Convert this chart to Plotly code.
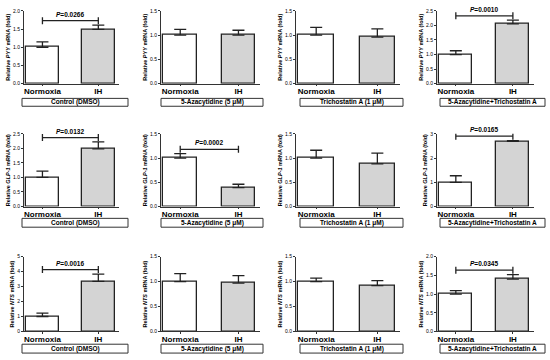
import plotly.graph_objects as go

# data
groups = ["Normoxia", "IH"]
genes = ["PYY", "GLP-1", "NTS"]
treatments = ["Control (DMSO)", "5-Azacytidine (5 μM)",
              "Trichostatin A (1 μM)", "5-Azacytidine+Trichostatin A"]

pyy_mean = [[1.0, 1.49], [1.0, 1.0], [1.0, 0.96], [1.0, 2.05]]
pyy_err = [[0.15, 0.12], [0.12, 0.10], [0.16, 0.17], [0.13, 0.13]]
glp1_mean = [[1.0, 1.98], [1.0, 0.39], [1.0, 0.88], [1.0, 2.69]]
glp1_err = [[0.22, 0.24], [0.09, 0.07], [0.16, 0.22], [0.27, 0.03]]
nts_mean = [[1.0, 3.35], [1.0, 0.97], [1.0, 0.92], [1.0, 1.40]]
nts_err = [[0.22, 0.49], [0.16, 0.15], [0.07, 0.10], [0.09, 0.12]]

pyy_p = ["0.0266", None, None, "0.0010"]
glp1_p = ["0.0132", "0.0002", None, "0.0165"]
nts_p = ["0.0016", None, None, "0.0345"]

pyy_ymax = [2.0, 1.5, 1.5, 2.5]
glp1_ymax = [2.5, 1.5, 1.5, 3.0]
nts_ymax = [5.0, 1.5, 1.5, 2.0]
pyy_dtick = [0.5, 0.5, 0.5, 0.5]
glp1_dtick = [0.5, 0.5, 0.5, 1.0]
nts_dtick = [1.0, 0.5, 0.5, 0.5]

means = [pyy_mean, glp1_mean, nts_mean]
errs = [pyy_err, glp1_err, nts_err]
pvals = [pyy_p, glp1_p, nts_p]
ymaxs = [pyy_ymax, glp1_ymax, nts_ymax]
dticks = [pyy_dtick, glp1_dtick, nts_dtick]

W, H = 550, 360
FONT = "Liberation Sans, Arial, sans-serif"

# pixel layout of panels
col_x = [(24, 119), (161, 260), (296, 400), (437, 534)]
row_y = [(8, 82), (133, 207), (258, 334)]
box_x = [(22, 128), (161, 263), (300, 403), (440, 545)]
box_y = [(97, 105), (219, 228), (347, 356)]

fills = ["white", "#d4d4d4"]

fig = go.Figure()
layout = {}
shapes = []
annotations = []

for r in range(3):
    for c in range(4):
        i = r * 4 + c + 1
        xa = "x" if i == 1 else f"x{i}"
        ya = "y" if i == 1 else f"y{i}"
        m = means[r][c]
        e = errs[r][c]
        ymax = ymaxs[r][c]

        fig.add_trace(go.Bar(
            x=[0, 1], y=m, width=0.58,
            marker=dict(color=fills, line=dict(color="#222222", width=1.3)),
            error_y=dict(type="data", symmetric=False, array=e,
                         arrayminus=[0, 0], color="#222222",
                         thickness=1.3, width=6),
            xaxis=xa, yaxis=ya, showlegend=False,
        ))

        x0, x1 = col_x[c]
        y0, y1 = row_y[r]
        layout["xaxis" if i == 1 else f"xaxis{i}"] = dict(
            domain=[x0 / W, x1 / W], anchor=ya, range=[-0.33, 1.37],
            tickvals=[0, 1], ticktext=["<b>%s</b>" % g for g in groups],
            tickfont=dict(size=8, color="black", family=FONT),
            showline=True, linecolor="#333333", linewidth=1,
            ticks="outside", ticklen=1.5, tickcolor="#333333",
            ticklabelstandoff=-2,
            showgrid=False, zeroline=False, fixedrange=True,
        )
        dt = dticks[r][c]
        layout["yaxis" if i == 1 else f"yaxis{i}"] = dict(
            domain=[1 - y1 / H, 1 - y0 / H], anchor=xa, range=[0, ymax],
            dtick=dt, tick0=0, tickformat="d" if dt >= 1 else ".1f",
            tickfont=dict(size=5, color="black", family=FONT),
            showline=True, linecolor="#333333", linewidth=1,
            ticks="outside", ticklen=2, tickcolor="#333333",
            showgrid=False, zeroline=False, fixedrange=True,
            title=dict(text="<b>Relative <i>%s</i> mRNA (fold)</b>" % genes[r],
                       font=dict(size=5.5, color="black", family=FONT),
                       standoff=2),
        )

        p = pvals[r][c]
        if p:
            top = max(m[0] + e[0], m[1] + e[1])
            by = top + 0.06 * ymax
            fig.add_trace(go.Scatter(
                x=[0, 1], y=[by, by], mode="lines+markers",
                line=dict(color="#222222", width=1.3),
                marker=dict(symbol="line-ns-open", size=5,
                            line=dict(color="#222222", width=1.3)),
                xaxis=xa, yaxis=ya, showlegend=False, hoverinfo="skip",
            ))
            annotations.append(dict(
                x=0.5, y=by, xref=xa, yref=ya, xanchor="center",
                yanchor="bottom", yshift=1,
                text="<b><i>P</i>=%s</b>" % p, showarrow=False,
                font=dict(size=6.5, color="black", family=FONT),
            ))

        bx0, bx1 = box_x[c]
        by0, by1 = box_y[r]
        shapes.append(dict(
            type="rect", xref="paper", yref="paper",
            x0=bx0 / W, x1=bx1 / W, y0=1 - by1 / H, y1=1 - by0 / H,
            line=dict(color="#333333", width=1), fillcolor="white",
        ))
        annotations.append(dict(
            x=(bx0 + bx1) / 2 / W, y=1 - (by0 + by1) / 2 / H,
            xref="paper", yref="paper", xanchor="center", yanchor="middle",
            showarrow=False, text="<b>%s</b>" % treatments[c],
            font=dict(size=6.5, color="black", family=FONT),
        ))

fig.update_layout(
    width=W, height=H, margin=dict(l=0, r=0, t=0, b=0),
    plot_bgcolor="white", paper_bgcolor="white",
    showlegend=False, bargap=0,
    shapes=shapes, annotations=annotations, **layout,
)

# drop the default page margin so the figure sits at the window's corner
fig.write_html("out.html", config={"displayModeBar": False},
               post_script="document.body.style.margin='0';")
